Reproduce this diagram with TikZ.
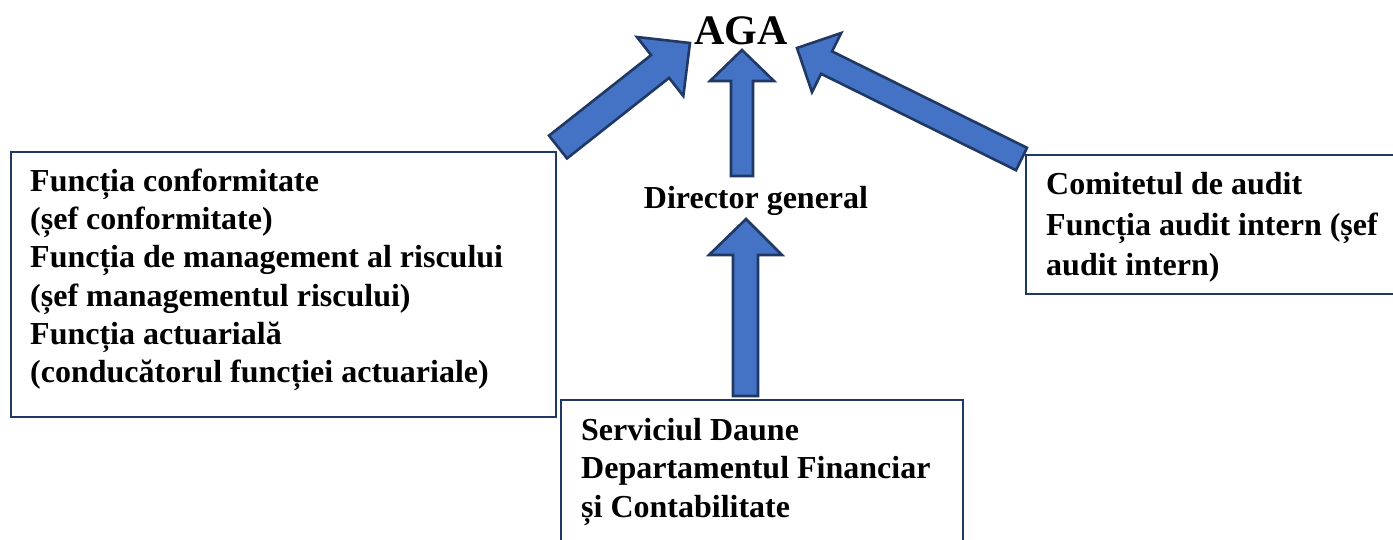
\documentclass[tikz,border=0pt]{standalone}
\usepackage{fontspec}
\setmainfont{Liberation Serif}
\definecolor{arrowfill}{HTML}{4472C4}
\definecolor{arrowline}{HTML}{203864}
\definecolor{boxc}{HTML}{203864}
\begin{document}
\begin{tikzpicture}[x=1pt,y=-1pt,
  box/.style={draw=boxc, line width=2.4pt, anchor=north west, inner sep=0pt},
  blockarrow/.style={fill=arrowfill, draw=arrowline, line width=2.6pt, line join=miter},
  txt/.style={anchor=base west, inner sep=0pt, font=\bfseries\fontsize{32}{38}\selectfont},
]
\useasboundingbox (0,0) rectangle (1393,540);
\clip (0,0) rectangle (1393,540);
\fill[white] (0,0) rectangle (1393,540);

% title
\node[anchor=base, inner sep=0pt, font=\bfseries\fontsize{42}{50}\selectfont] (aga) at (741,45) {AGA};
\node[txt, anchor=base] (dir) at (756,209) {Director general};

% boxes
\node[box, minimum width=545pt, minimum height=265pt] (left) at (10,151) {};
\node[box, minimum width=380pt, minimum height=139pt] (right) at (1025,154) {};
\node[box, minimum width=402pt, minimum height=160pt] (bottom) at (560,399) {};

% left box text
\node[txt] (l1) at (30,192) {Funcția conformitate};
\node[txt] (l2) at (30,230) {(șef conformitate)};
\node[txt] (l3) at (30,268) {Funcția de management al riscului};
\node[txt] (l4) at (30,306) {(șef managementul riscului)};
\node[txt] (l5) at (30,344) {Funcția actuarială};
\node[txt] (l6) at (30,382) {(conducătorul funcției actuariale)};

% right box text
\node[txt] (r1) at (1046,195) {Comitetul de audit};
\node[txt] (r2) at (1046,236) {Funcția audit intern (șef};
\node[txt] (r3) at (1046,276) {audit intern)};

% bottom box text
\node[txt] (b1) at (581,440) {Serviciul Daune};
\node[txt] (b2) at (581,478.5) {Departamentul Financiar};
\node[txt] (b3) at (581,517) {și Contabilitate};

% block arrows
\draw[blockarrow] (549,135.6) -- (651.1,55.1) -- (636.9,37.0) -- (690,43) -- (683.3,96.0) -- (669.1,77.9) -- (567,158.4) -- cycle;
\draw[blockarrow] (731,176) -- (731,81) -- (710,81) -- (742,50) -- (774,81) -- (753,81) -- (753,176) -- cycle;
\draw[blockarrow] (1027,147.8) -- (832.1,51.4) -- (841.2,33.0) -- (797,48) -- (812,92.2) -- (821.1,73.8) -- (1016,170.2) -- cycle;
\draw[blockarrow] (733,396) -- (733,255) -- (709,255) -- (746,219) -- (782,255) -- (758,255) -- (758,396) -- cycle;
\end{tikzpicture}
\end{document}
